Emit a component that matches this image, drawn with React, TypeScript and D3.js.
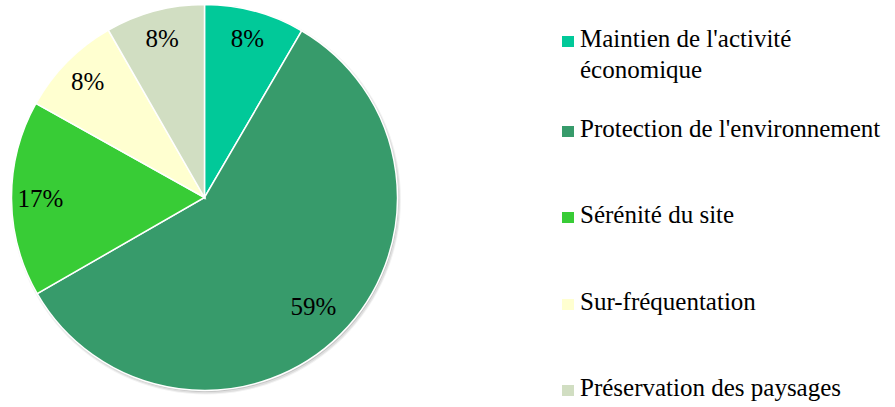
import React from "react";
import * as d3 from "d3";

const categories = [
  "Maintien de l'activité économique",
  "Protection de l'environnement",
  "Sérénité du site",
  "Sur-fréquentation",
  "Préservation des paysages",
];
const legendLines = [
  ["Maintien de l'activité", "économique"],
  ["Protection de l'environnement"],
  ["Sérénité du site"],
  ["Sur-fréquentation"],
  ["Préservation des paysages"],
];
const values = [8.4, 58.3, 16.4, 8.6, 8.3];
const labels = ["8%", "59%", "17%", "8%", "8%"];
const colors = ["#01C999", "#379B6B", "#38CC36", "#FFFFD0", "#D1DEC2"];
const legendY = [47, 137, 223, 310, 396];

const W = 895;
const H = 407;
const cx = 204.5;
const cy = 197.5;
const R = 193;

export default function App() {
  const pie = d3
    .pie<number>()
    .sort(null)
    .value((d) => d);
  const arcs = pie(values);
  const arc = d3.arc<d3.PieArcDatum<number>>().innerRadius(0).outerRadius(R);
  const labelArc = (i: number) =>
    d3
      .arc<d3.PieArcDatum<number>>()
      .innerRadius(i === 1 ? R * 0.8 : R * 0.85)
      .outerRadius(i === 1 ? R * 0.8 : R * 0.85);

  return (
    <div style={{ fontFamily: "serif" }}>
      <svg
        width={W}
        height={H}
        style={{ position: "fixed", left: 0, top: 0, background: "#fff" }}
      >
        <style>{"text { font-family: 'Liberation Serif', serif; font-size: 25px; }"}</style>
        <g transform={`translate(${cx},${cy})`}>
          <circle cx={1.5} cy={2} r={R + 2} fill="#000" fillOpacity={0.05} />
          <circle cx={1.5} cy={2} r={R + 1} fill="#000" fillOpacity={0.08} />
          <circle cx={1} cy={1.5} r={R} fill="#000" fillOpacity={0.12} />
          {arcs.map((a, i) => (
            <path key={categories[i]} d={arc(a) || ""} fill={colors[i]} stroke="#fff" strokeWidth={1.5} />
          ))}
          {arcs.map((a, i) => {
            const [x, y] = labelArc(i).centroid(a);
            return (
              <text key={"l" + i} x={x} y={y + 8} textAnchor="middle" fill="#000">
                {labels[i]}
              </text>
            );
          })}
        </g>
        {categories.map((c, i) => (
          <g key={"lg" + i}>
            <rect x={562} y={legendY[i] - 11} width={12} height={11} fill={colors[i]} />
            {legendLines[i].map((line, j) => (
              <text key={j} x={580} y={legendY[i] + j * 31} fill="#000">
                {line}
              </text>
            ))}
          </g>
        ))}
      </svg>
    </div>
  );
}
